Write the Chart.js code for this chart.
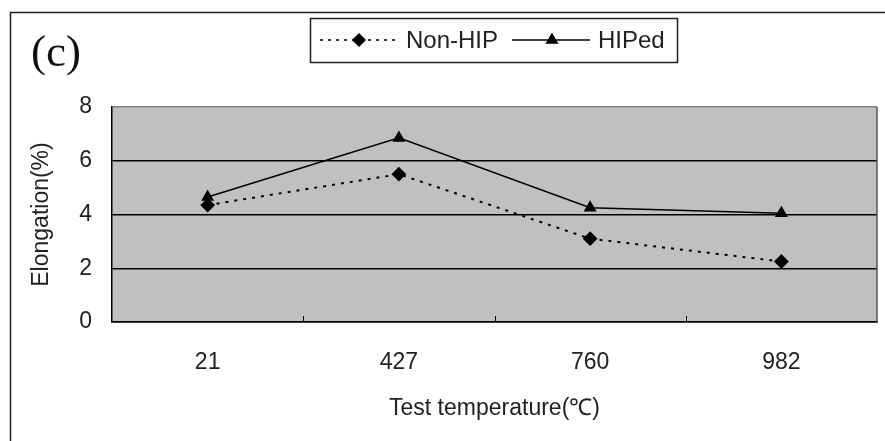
<!DOCTYPE html>
<html>
<head>
<meta charset="utf-8">
<script src="https://cdn.jsdelivr.net/npm/chart.js@4.4.1/dist/chart.umd.min.js"></script>
<style>
  html, body { margin: 0; padding: 0; background: #ffffff; }
  #wrap { width: 885px; height: 441px; }
</style>
</head>
<body>
<div id="wrap"><canvas id="c" width="885" height="441"></canvas></div>
<script>
const categories = ['21', '427', '760', '982'];
const nonHipValues = [4.35, 5.5, 3.1, 2.25];
const hipedValues = [4.65, 6.85, 4.25, 4.05];
const seriesNames = ['Non-HIP', 'HIPed'];
const yTicks = [0, 2, 4, 6, 8];
const panelLabel = '(c)';
const xTitle = 'Test temperature(\u2103)';
const yTitle = 'Elongation(%)';

const FONT = 'Arial, "Liberation Sans", sans-serif';

const framePlugin = {
  id: 'framePlugin',
  beforeDraw(chart) {
    const ctx = chart.ctx;
    const a = chart.chartArea;
    ctx.save();
    ctx.fillStyle = '#c0c0c0';
    ctx.fillRect(a.left, a.top, a.right - a.left, a.bottom - a.top);
    ctx.restore();
  },
  afterDraw(chart) {
    const ctx = chart.ctx;
    const a = chart.chartArea;
    const xs = chart.scales.x;
    ctx.save();
    // right border of plot
    ctx.strokeStyle = '#555555';
    ctx.lineWidth = 1.5;
    ctx.beginPath();
    ctx.moveTo(a.right, a.top);
    ctx.lineTo(a.right, a.bottom);
    ctx.stroke();
    // inward x ticks at category boundaries
    ctx.strokeStyle = '#000000';
    ctx.lineWidth = 1;
    for (let i = 0; i < categories.length - 1; i++) {
      const px = Math.round((xs.getPixelForValue(i) + xs.getPixelForValue(i + 1)) / 2) + 0.5;
      ctx.beginPath();
      ctx.moveTo(px, a.bottom);
      ctx.lineTo(px, a.bottom - 6);
      ctx.stroke();
    }
    // outer frame
    ctx.strokeStyle = '#222222';
    ctx.lineWidth = 1.5;
    ctx.beginPath();
    ctx.moveTo(885, 12.5);
    ctx.lineTo(10.5, 12.5);
    ctx.lineTo(10.5, 441);
    ctx.stroke();
    // panel label
    ctx.fillStyle = '#111111';
    ctx.font = '45px "Liberation Serif", "Times New Roman", serif';
    ctx.textBaseline = 'alphabetic';
    ctx.textAlign = 'left';
    ctx.fillText(panelLabel, 31, 66);
    // legend box
    const bx = 310, by = 18, bw = 367, bh = 44;
    ctx.fillStyle = '#ffffff';
    ctx.fillRect(bx, by, bw, bh);
    ctx.strokeStyle = '#222222';
    ctx.lineWidth = 1.5;
    ctx.strokeRect(bx + 0.5, by + 0.5, bw, bh);
    const cy = by + bh / 2;
    ctx.font = '24px ' + FONT;
    ctx.textBaseline = 'middle';
    ctx.fillStyle = '#222222';
    // Non-HIP entry
    const ds0 = chart.data.datasets[0];
    ctx.strokeStyle = '#000000';
    ctx.lineWidth = 1.5;
    ctx.setLineDash([3, 5]);
    ctx.beginPath();
    ctx.moveTo(320, cy);
    ctx.lineTo(398, cy);
    ctx.stroke();
    ctx.setLineDash([]);
    ctx.fillStyle = '#000000';
    Chart.helpers.drawPoint(ctx, {pointStyle: ds0.pointStyle, radius: 6, borderWidth: 1}, 359, cy);
    ctx.fillStyle = '#222222';
    ctx.fillText(seriesNames[0], 406, cy + 1);
    // HIPed entry
    const ds1 = chart.data.datasets[1];
    ctx.beginPath();
    ctx.moveTo(512, cy);
    ctx.lineTo(590, cy);
    ctx.stroke();
    ctx.fillStyle = '#000000';
    Chart.helpers.drawPoint(ctx, {pointStyle: ds1.pointStyle, radius: 6, borderWidth: 1}, 552, cy);
    ctx.fillStyle = '#222222';
    ctx.fillText(seriesNames[1], 598, cy + 1);
    ctx.restore();
  }
};

new Chart(document.getElementById('c'), {
  type: 'line',
  data: {
    labels: categories,
    datasets: [
      {
        label: seriesNames[0],
        data: nonHipValues,
        borderColor: '#000000',
        backgroundColor: '#000000',
        borderWidth: 2,
        borderDash: [3, 6],
        pointStyle: 'rectRot',
        pointRadius: 6,
        pointBackgroundColor: '#000000',
        pointBorderColor: '#000000',
        tension: 0,
        fill: false
      },
      {
        label: seriesNames[1],
        data: hipedValues,
        borderColor: '#000000',
        backgroundColor: '#000000',
        borderWidth: 1.5,
        pointStyle: 'triangle',
        pointRadius: 6,
        pointBackgroundColor: '#000000',
        pointBorderColor: '#000000',
        tension: 0,
        fill: false
      }
    ]
  },
  options: {
    responsive: false,
    animation: false,
    layout: { padding: { left: 0, right: 4, top: 107, bottom: 0 } },
    plugins: {
      legend: { display: false },
      tooltip: { enabled: false },
      title: { display: false }
    },
    scales: {
      x: {
        type: 'category',
        offset: true,
        grid: { display: false, drawTicks: false },
        border: { display: true, color: '#000000', width: 1.5 },
        ticks: {
          color: '#222222',
          font: { family: FONT, size: 23 },
          padding: 27,
          maxRotation: 0
        },
        title: {
          display: true,
          text: xTitle,
          color: '#222222',
          font: { family: FONT, size: 23 },
          padding: { top: 19, bottom: 19 }
        },
        afterFit(scale) { scale.height = 119; }
      },
      y: {
        min: 0,
        max: 8,
        afterBuildTicks(scale) { scale.ticks = yTicks.map(v => ({ value: v })); },
        grid: {
          drawTicks: false,
          color: (c) => (c.tick && c.tick.value === 8 ? '#808080' : '#000000'),
          lineWidth: 1.5
        },
        border: { display: true, color: '#000000', width: 1.5 },
        ticks: {
          color: '#222222',
          font: { family: FONT, size: 23 },
          padding: 20
        },
        title: {
          display: true,
          text: yTitle,
          color: '#222222',
          font: { family: FONT, size: 23 },
          padding: { top: 28, bottom: 28 }
        },
        afterFit(scale) { scale.width = 112; }
      }
    }
  },
  plugins: [framePlugin]
});
</script>
</body>
</html>
